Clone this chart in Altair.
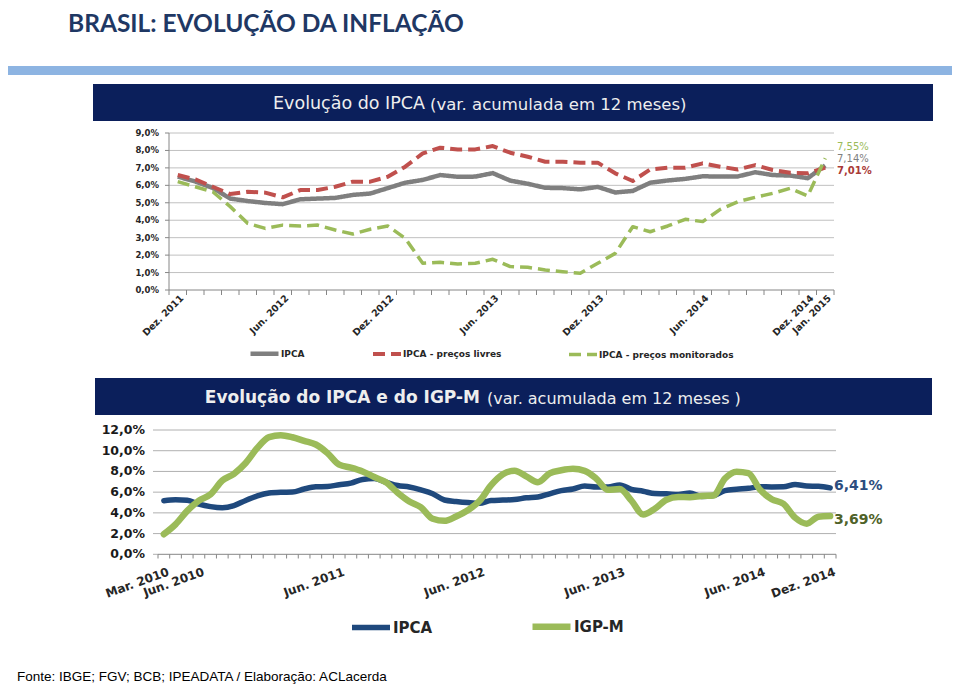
import altair as alt
import pandas as pd

# ---------------- Gráfico 1: IPCA, preços livres e monitorados (Dez. 2011 – Jan. 2015)
ipca_1 = [6.50, 6.22, 5.85, 5.24, 5.10, 4.99, 4.92, 5.20, 5.24, 5.28, 5.45, 5.53, 5.84,
          6.15, 6.31, 6.59, 6.49, 6.50, 6.70, 6.27, 6.09, 5.86, 5.84, 5.77, 5.91, 5.59,
          5.68, 6.15, 6.28, 6.37, 6.52, 6.50, 6.51, 6.75, 6.59, 6.56, 6.41, 7.14]
livres_1 = [6.59, 6.34, 5.92, 5.50, 5.63, 5.58, 5.31, 5.73, 5.73, 5.92, 6.21, 6.21, 6.49,
            7.07, 7.83, 8.16, 8.06, 8.06, 8.25, 7.87, 7.64, 7.35, 7.35, 7.30, 7.30, 6.69,
            6.25, 6.91, 7.01, 7.01, 7.26, 7.07, 6.91, 7.16, 6.88, 6.72, 6.69, 7.01]
monit_1 = [6.21, 5.92, 5.63, 4.78, 3.82, 3.53, 3.72, 3.67, 3.72, 3.44, 3.21, 3.48, 3.67,
           2.96, 1.53, 1.59, 1.49, 1.53, 1.76, 1.34, 1.30, 1.15, 1.05, 0.96, 1.53, 2.10,
           3.63, 3.34, 3.67, 4.05, 3.92, 4.62, 5.06, 5.31, 5.54, 5.83, 5.39, 7.55]
series_1 = ["IPCA", "IPCA - preços livres", "IPCA - preços monitorados"]
cores_1 = ["#7F7F7F", "#C0504D", "#9BBB59"]
xlab_1_pos = [0, 6, 12, 18, 24, 30, 36, 37]
xlab_1_txt = ["Dez. 2011", "Jun. 2012", "Dez. 2012", "Jun. 2013", "Dez. 2013",
              "Jun. 2014", "Dez. 2014", "Jan. 2015"]
ytick_1 = [0, 1, 2, 3, 4, 5, 6, 7, 8, 9]
ylab_1 = ["0,0%", "1,0%", "2,0%", "3,0%", "4,0%", "5,0%", "6,0%", "7,0%", "8,0%", "9,0%"]

# ---------------- Gráfico 2: IPCA e IGP-M (Mar. 2010 – Dez. 2014)
ipca_2 = [5.17, 5.26, 5.22, 4.84, 4.60, 4.49, 4.70, 5.20, 5.63, 5.91,
          5.99, 6.01, 6.30, 6.51, 6.55, 6.71, 6.87, 7.23, 7.31, 6.97, 6.64, 6.50,
          6.22, 5.85, 5.24, 5.10, 4.99, 4.92, 5.20, 5.24, 5.28, 5.45, 5.53, 5.84,
          6.15, 6.31, 6.59, 6.49, 6.50, 6.70, 6.27, 6.09, 5.86, 5.84, 5.77, 5.91,
          5.59, 5.68, 6.15, 6.28, 6.37, 6.52, 6.50, 6.51, 6.75, 6.59, 6.56, 6.41]
igpm_2 = [1.94, 2.89, 4.19, 5.18, 5.79, 7.13, 7.77, 8.81, 10.27, 11.32,
          11.50, 11.30, 10.95, 10.60, 9.77, 8.65, 8.36, 7.99, 7.46, 6.95, 5.95, 5.10,
          4.53, 3.43, 3.23, 3.65, 4.26, 5.14, 6.67, 7.72, 8.07, 7.52, 6.96, 7.82,
          8.11, 8.25, 8.06, 7.30, 6.22, 6.31, 5.18, 3.85, 4.40, 5.27, 5.54, 5.51,
          5.63, 5.67, 7.31, 7.98, 7.84, 6.24, 5.32, 4.88, 3.54, 2.96, 3.63, 3.69]
series_2 = ["IPCA", "IGP-M"]
cores_2 = ["#1F497D", "#9BBB59"]
xlab_2_pos = [0, 3, 15, 27, 39, 51, 57]
xlab_2_txt = ["Mar. 2010", "Jun. 2010", "Jun. 2011", "Jun. 2012", "Jun. 2013",
              "Jun. 2014", "Dez. 2014"]
ytick_2 = [0, 2, 4, 6, 8, 10, 12]
ylab_2 = ["0,0%", "2,0%", "4,0%", "6,0%", "8,0%", "10,0%", "12,0%"]

FONT = "DejaVu Sans"
one = pd.DataFrame({"k": [0]})


def pct(v):
    return f"{v:.2f}%".replace(".", ",")


def caixa(x1, y1, x2, y2, cor):
    return alt.Chart(one).mark_rect(color=cor).encode(
        x=alt.value(x1), x2=alt.value(x2), y=alt.value(y1), y2=alt.value(y2))


def texto(t, x, y, **kw):
    return alt.Chart(one).mark_text(text=t, **kw).encode(x=alt.value(x), y=alt.value(y))


# ---------------- decoração
deco = [
    texto("BRASIL: EVOLUÇÃO DA INFLAÇÃO", 60, 24, font="Lato", fontSize=24.5,
          fontWeight="bold", color="#1F3864", align="left", baseline="alphabetic"),
    caixa(0, 58, 944, 67, "#8DB4E2"),
    caixa(85, 76, 925, 113, "#0B1F5B"),
    texto("Evolução do IPCA", 417, 96, font=FONT, fontSize=17.5, color="#EEEEEE",
          align="right", baseline="middle"),
    texto("(var. acumulada em 12 meses)", 422, 97, font=FONT, fontSize=16.5,
          color="#EEEEEE", align="left", baseline="middle"),
    caixa(87, 370, 924, 407, "#0B1F5B"),
    texto("Evolução do IPCA e do IGP-M", 472, 390, font=FONT, fontSize=17,
          fontWeight="bold", color="#EEEEEE", align="right", baseline="middle"),
    texto("(var. acumulada em 12 meses )", 479, 391, font=FONT, fontSize=16,
          color="#EEEEEE", align="left", baseline="middle"),
    texto("Fonte: IBGE; FGV; BCB; IPEADATA / Elaboração: ACLacerda", 9, 673,
          font="Liberation Sans", fontSize=13.5, color="#000000", align="left",
          baseline="alphabetic"),
]

# ---------------- gráfico 1
n1 = len(ipca_1)
X1 = alt.Scale(domain=[-0.5, n1 - 0.5], range=[161, 826], nice=False, zero=False)
Y1 = alt.Scale(domain=[0, 9], range=[282, 125], nice=False, zero=False)
df1 = pd.DataFrame({
    "idx": list(range(n1)) * 3,
    "serie": [series_1[0]] * n1 + [series_1[1]] * n1 + [series_1[2]] * n1,
    "valor": ipca_1 + livres_1 + monit_1,
})
leg1 = alt.Legend(orient="none", legendX=240, legendY=329, direction="horizontal",
                  title=None, symbolType="stroke", symbolStrokeWidth=4, symbolSize=784,
                  labelFont=FONT, labelFontSize=9, labelFontWeight="bold",
                  labelColor="#262626", columnPadding=60, labelOffset=0, padding=0)

grid1 = alt.Chart(pd.DataFrame({"v": ytick_1[1:]})).mark_rule(
    color="#C0C0C0", strokeWidth=1).encode(
    x=alt.X(datum=-0.5, scale=X1, axis=None), x2=alt.value(826),
    y=alt.Y("v:Q", scale=Y1, axis=None))
ytk1 = alt.Chart(pd.DataFrame({"v": ytick_1})).mark_rule(
    color="#868686", strokeWidth=1).encode(
    x=alt.value(157), x2=alt.value(161), y=alt.Y("v:Q", scale=Y1, axis=None))
vax1 = alt.Chart(one).mark_rule(color="#868686", strokeWidth=1).encode(
    x=alt.X(datum=-0.5, scale=X1, axis=None),
    y=alt.Y(datum=0, scale=Y1, axis=None), y2=alt.Y2(datum=9))
hax1 = alt.Chart(one).mark_rule(color="#868686", strokeWidth=1).encode(
    x=alt.X(datum=-0.5, scale=X1, axis=None), x2=alt.value(826),
    y=alt.Y(datum=0, scale=Y1, axis=None))
ticks1 = alt.Chart(pd.DataFrame({"t": [k - 0.5 for k in range(n1 + 1)]})).mark_rule(
    color="#868686", strokeWidth=1).encode(
    x=alt.X("t:Q", scale=X1, axis=None),
    y=alt.Y(datum=0, scale=Y1, axis=None), y2=alt.value(287))
lines1 = alt.Chart(df1).mark_line(strokeJoin="round").encode(
    x=alt.X("idx:Q", scale=X1, axis=None),
    y=alt.Y("valor:Q", scale=Y1, axis=None),
    color=alt.Color("serie:N", scale=alt.Scale(domain=series_1, range=cores_1), legend=leg1),
    strokeDash=alt.StrokeDash("serie:N", scale=alt.Scale(
        domain=series_1, range=[[1, 0], [12, 6], [12, 6]]), legend=leg1),
    strokeWidth=alt.StrokeWidth("serie:O", scale=alt.Scale(
        domain=series_1, range=[4.5, 3.5, 3.5]), legend=None),
)
ylabs1 = alt.Chart(pd.DataFrame({"v": ytick_1, "lab": ylab_1})).mark_text(
    font=FONT, fontSize=8.5, fontWeight="bold", color="#262626", align="right",
    baseline="middle").encode(
    x=alt.value(151), y=alt.Y("v:Q", scale=Y1, axis=None), text="lab:N")
xlabs1 = alt.Chart(pd.DataFrame({"p": xlab_1_pos, "lab": xlab_1_txt})).mark_text(
    font=FONT, fontSize=9.5, fontWeight="bold", color="#262626", align="right",
    baseline="middle", angle=315, dx=6).encode(
    x=alt.X("p:Q", scale=X1, axis=None), y=alt.value(293), text="lab:N")


def fim1(val, cor, dy, weight):
    return alt.Chart(one).mark_text(
        text=pct(val), color=cor, dx=3, dy=dy, align="left", baseline="middle",
        font=FONT, fontSize=10, fontWeight=weight).encode(
        x=alt.X(datum=n1 - 0.5, scale=X1, axis=None),
        y=alt.Y(datum=val, scale=Y1, axis=None))


chart1 = alt.layer(
    grid1, ytk1, vax1, hax1, ticks1, lines1, ylabs1, xlabs1,
    fim1(monit_1[-1], "#9BBB59", -11, "normal"),
    fim1(ipca_1[-1], "#7F7F7F", -6, "normal"),
    fim1(livres_1[-1], "#A93A37", 3, "bold"),
)

# ---------------- gráfico 2
n2 = len(ipca_2)
X2 = alt.Scale(domain=[-0.5, n2 - 0.5], range=[150, 828], nice=False, zero=False)
Y2 = alt.Scale(domain=[0, 12], range=[546.3, 422], nice=False, zero=False)
df2 = pd.DataFrame({
    "idx": list(range(n2)) * 2,
    "serie": [series_2[0]] * n2 + [series_2[1]] * n2,
    "valor": ipca_2 + igpm_2,
})
leg2 = alt.Legend(orient="none", legendX=341, legendY=596, direction="horizontal",
                  title=None, symbolType="stroke", symbolStrokeWidth=6, symbolSize=1444,
                  labelFont=FONT, labelFontSize=15, labelFontWeight="bold",
                  labelColor="#262626", columnPadding=86, labelOffset=0, padding=0)

grid2 = alt.Chart(pd.DataFrame({"v": ytick_2[1:]})).mark_rule(
    color="#B0B0B0", strokeWidth=1).encode(
    x=alt.X(datum=-0.5, scale=X2, axis=None), x2=alt.value(828),
    y=alt.Y("v:Q", scale=Y2, axis=None))
ytk2 = alt.Chart(pd.DataFrame({"v": ytick_2})).mark_rule(
    color="#B0B0B0", strokeWidth=1).encode(
    x=alt.value(145), x2=alt.value(150), y=alt.Y("v:Q", scale=Y2, axis=None))
hax2 = alt.Chart(one).mark_rule(color="#868686", strokeWidth=1).encode(
    x=alt.X(datum=-0.5, scale=X2, axis=None), x2=alt.value(828),
    y=alt.Y(datum=0, scale=Y2, axis=None))
ticks2 = alt.Chart(pd.DataFrame({"t": [k - 0.5 for k in range(n2 + 1)]})).mark_rule(
    color="#868686", strokeWidth=1).encode(
    x=alt.X("t:Q", scale=X2, axis=None),
    y=alt.Y(datum=0, scale=Y2, axis=None), y2=alt.value(550.5))
lines2 = alt.Chart(df2).mark_line(interpolate="monotone", strokeCap="round",
                                  strokeJoin="round").encode(
    x=alt.X("idx:Q", scale=X2, axis=None),
    y=alt.Y("valor:Q", scale=Y2, axis=None),
    color=alt.Color("serie:N", scale=alt.Scale(domain=series_2, range=cores_2), legend=leg2),
    strokeWidth=alt.StrokeWidth("serie:O", scale=alt.Scale(
        domain=series_2, range=[5.5, 6.5]), legend=None),
)
ylabs2 = alt.Chart(pd.DataFrame({"v": ytick_2, "lab": ylab_2})).mark_text(
    font=FONT, fontSize=12.5, fontWeight="bold", color="#1A1A1A", align="right",
    baseline="middle").encode(
    x=alt.value(137), y=alt.Y("v:Q", scale=Y2, axis=None), text="lab:N")
xlabs2 = alt.Chart(pd.DataFrame({"p": xlab_2_pos, "lab": xlab_2_txt})).mark_text(
    font=FONT, fontSize=12, fontWeight="bold", color="#262626", align="right",
    baseline="middle", angle=340, dx=5).encode(
    x=alt.X("p:Q", scale=X2, axis=None), y=alt.value(565), text="lab:N")


def fim2(val, cor, dy):
    return alt.Chart(one).mark_text(
        text=pct(val), color=cor, dx=-2, dy=dy, align="left", baseline="middle",
        font=FONT, fontSize=14, fontWeight="bold").encode(
        x=alt.X(datum=n2 - 0.5, scale=X2, axis=None),
        y=alt.Y(datum=val, scale=Y2, axis=None))


chart2 = alt.layer(
    grid2, ytk2, hax2, ticks2, lines2, ylabs2, xlabs2,
    fim2(ipca_2[-1], "#2C4D7E", -2),
    fim2(igpm_2[-1], "#4F6228", 4),
)

chart = alt.layer(*deco, chart1, chart2).resolve_scale(
    x="independent", y="independent", color="independent",
    strokeDash="independent", strokeWidth="independent",
).properties(
    width=944, height=676, padding=0,
    autosize=alt.AutoSizeParams(type="none"),
    background="white",
).configure_view(strokeWidth=0)

chart.save("out.html", embed_options={"renderer": "svg", "actions": False})
